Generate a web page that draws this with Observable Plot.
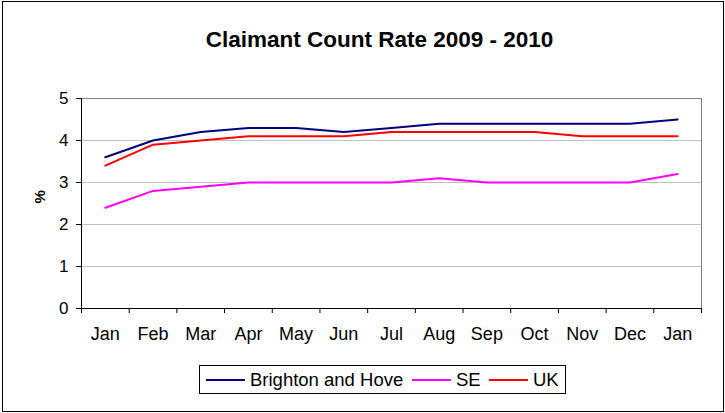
<!DOCTYPE html>
<html><head><meta charset="utf-8">
<script src="https://cdn.jsdelivr.net/npm/d3@7"></script>
<script src="https://cdn.jsdelivr.net/npm/@observablehq/plot@0.6"></script>
<style>
body{margin:0;background:#fff;font-family:"Liberation Sans",Arial,sans-serif;}
#wrap{position:relative;width:725px;height:413px;}
#border{position:absolute;left:2px;top:1px;width:720px;height:409px;border:1px solid #000;box-sizing:content-box;pointer-events:none;}
#legend{position:absolute;left:199px;top:365px;width:367px;height:29px;border:1px solid #000;box-sizing:border-box;font-size:18.5px;}
#legend .sw{position:absolute;top:13px;width:39px;height:2px;}
#legend .tx{position:absolute;top:3px;white-space:nowrap;line-height:21px;}
</style></head>
<body><div id="wrap"><div id="chart"></div><div id="legend"></div><div id="border"></div></div>
<script>
const months = ["Jan","Feb","Mar","Apr","May","Jun","Jul","Aug","Sep","Oct","Nov","Dec","Jan"];
const brighton = [3.6,4.0,4.2,4.3,4.3,4.2,4.3,4.4,4.4,4.4,4.4,4.4,4.5];
const se = [2.4,2.8,2.9,3.0,3.0,3.0,3.0,3.1,3.0,3.0,3.0,3.0,3.2];
const uk = [3.4,3.9,4.0,4.1,4.1,4.1,4.2,4.2,4.2,4.2,4.1,4.1,4.1];
const seriesNames = ["Brighton and Hove","SE","UK"];
const seriesColors = ["#000080","#ff00ff","#ff0000"];
const yTicks = [0,1,2,3,4,5];
const title = "Claimant Count Rate 2009 - 2010";

const rows = [];
[brighton, se, uk].forEach((vals, s) => vals.forEach((v, i) => rows.push({i, v, s: seriesNames[s]})));
const idx = months.map((_, i) => i);
const bounds = d3.range(-0.5, months.length, 1);

const chart = Plot.plot({
  width: 725, height: 413,
  marginLeft: 81, marginRight: 24, marginTop: 98, marginBottom: 105,
  style: {fontFamily: "'Liberation Sans',Arial,sans-serif", fontSize: "17px", color: "#000", background: "#fff"},
  x: {type: "linear", domain: [-0.5, months.length - 0.5]},
  y: {domain: [0, 5]},
  color: {domain: seriesNames, range: seriesColors},
  marks: [
    Plot.gridY(yTicks.slice(1), {stroke: "#c0c0c0", strokeOpacity: 1}),
    Plot.frame({stroke: "#808080"}),
    Plot.ruleX([-0.5], {stroke: "#000"}),
    Plot.ruleY([0], {stroke: "#000"}),
    Plot.axisY({ticks: yTicks, tickSize: 5, tickPadding: 8, label: null, tickFormat: d3.format("d"), fontSize: 17}),
    Plot.axisX({ticks: bounds, tickSize: 5, tickFormat: () => "", label: null}),
    Plot.axisX({ticks: idx, tickSize: 0, tickPadding: 19, tickFormat: i => months[i], label: null, fontSize: 18}),
    Plot.line(rows, {x: "i", y: "v", z: "s", stroke: "s", strokeWidth: 2}),
    Plot.text([title], {frameAnchor: "top", dx: -12, dy: -67, fontSize: 22.5, fontWeight: "bold"}),
    Plot.text(["%"], {frameAnchor: "left", dx: -41, rotate: -90, fontSize: 15, fontWeight: "bold"})
  ]
});
document.getElementById("chart").appendChild(chart);

const legend = document.getElementById("legend");
const swX = [6, 212, 289];
const txX = [50, 256, 333];
seriesNames.forEach((n, k) => {
  const sw = document.createElement("div");
  sw.className = "sw";
  sw.style.left = swX[k] + "px";
  sw.style.background = seriesColors[k];
  legend.appendChild(sw);
  const tx = document.createElement("div");
  tx.className = "tx";
  tx.style.left = txX[k] + "px";
  tx.textContent = n;
  legend.appendChild(tx);
});
</script></body></html>
